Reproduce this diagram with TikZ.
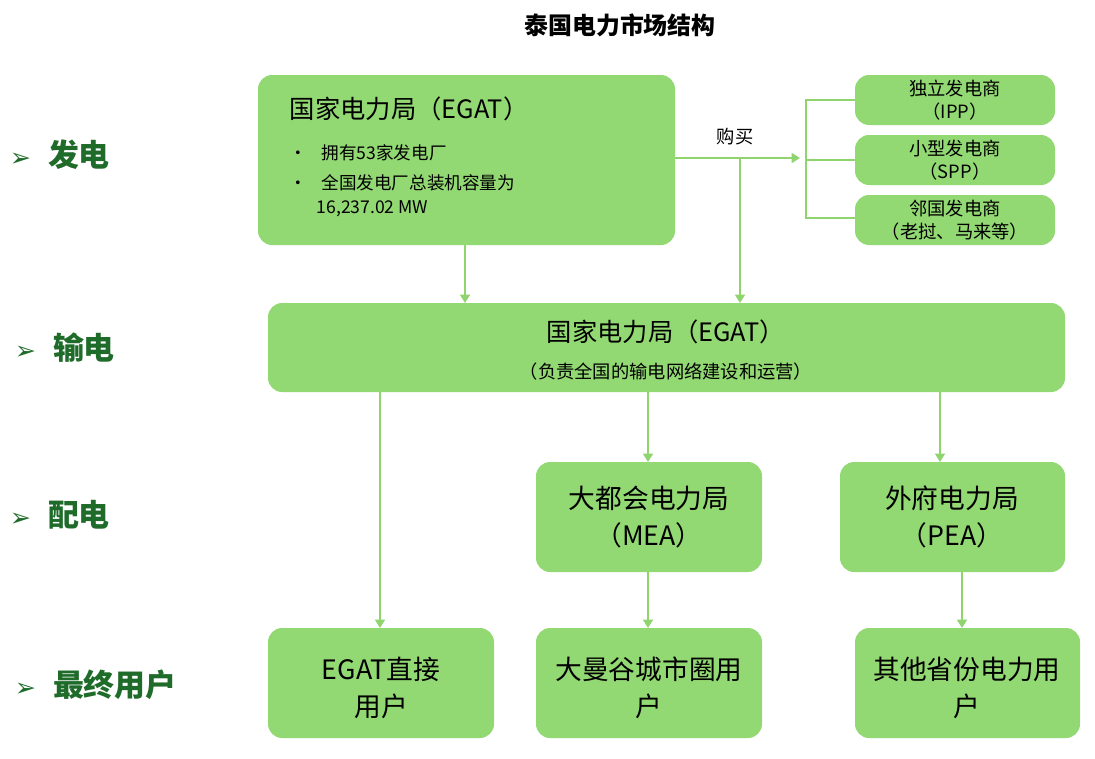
\documentclass[tikz,border=0pt]{standalone}
\usepackage{fontspec}
\setmainfont{Noto Sans CJK SC}
\newfontfamily\symf{DejaVu Sans}
\usetikzlibrary{arrows.meta}
\definecolor{boxg}{HTML}{92D873}
\definecolor{lineg}{HTML}{8FD46E}
\definecolor{darkg}{HTML}{1F6B2A}
\begin{document}
\begin{tikzpicture}[x=0.025cm,y=-0.025cm,
  bx/.style={fill=boxg,draw=none,rounded corners=10pt},
  conn/.style={draw=lineg,line width=2pt,-{Triangle[length=6pt,width=7pt]}},
  plain/.style={draw=lineg,line width=2pt},
  lvl/.style={anchor=west,text=darkg,font=\fontsize{22}{26}\selectfont\bfseries},
  big/.style={align=center,font=\fontsize{18}{23}\selectfont},
  sm/.style={align=center,font=\fontsize{13}{16}\selectfont}]
\useasboundingbox (0,0) rectangle (1095,758);
\node[font=\fontsize{17}{20}\selectfont\bfseries] (title) at (620,25) {泰国电力市场结构};
% levels
\node[lvl] (l1) at (5,155) {{\symf\fontsize{18}{20}\selectfont ➢}\hspace{12pt}发电};
\node[lvl] (l2) at (10,348) {{\symf\fontsize{18}{20}\selectfont ➢}\hspace{12pt}输电};
\node[lvl] (l3) at (5,515) {{\symf\fontsize{18}{20}\selectfont ➢}\hspace{12pt}配电};
\node[lvl] (l4) at (10,685) {{\symf\fontsize{18}{20}\selectfont ➢}\hspace{12pt}最终用户};
% boxes
\path[bx] (258,75) rectangle (675,245);
\node[anchor=north west,font=\fontsize{18}{22}\selectfont] (egat1) at (285,92) {国家电力局（EGAT）};
\node[anchor=north west,align=left,font=\fontsize{12.5}{17}\selectfont] (egatb) at (285,140)
 {•\hspace{10pt}拥有53家发电厂\\[4pt]•\hspace{10pt}全国发电厂总装机容量为\\\hspace{19pt}16,237.02 MW};
\coordinate (egatS) at (465,245);
\coordinate (egatE) at (675,158);
\node[bx,minimum width=200\pgflinewidth] (ipp) at (955,100) {};
\path[bx] (855,75) rectangle (1055,125);
\node[sm] (ippt) at (955,100) {独立发电商\\（IPP）};
\path[bx] (855,135) rectangle (1055,185);
\node[sm] (sppt) at (955,160) {小型发电商\\（SPP）};
\path[bx] (855,195) rectangle (1055,245);
\node[sm] (nbt) at (955,220) {邻国发电商\\（老挝、马来等）};
\path[bx] (268,303) rectangle (1065,392);
\node[big] (tr1) at (666,332) {国家电力局（EGAT）};
\node[sm] (tr2) at (666,372) {（负责全国的输电网络建设和运营）};
\path[bx] (536,462) rectangle (762,572);
\node[big,font=\fontsize{19}{26}\selectfont] (mea) at (649,517) {大都会电力局\\（MEA）};
\path[bx] (840,462) rectangle (1065,572);
\node[big,font=\fontsize{19}{26}\selectfont] (pea) at (952,517) {外府电力局\\（PEA）};
\path[bx] (268,628) rectangle (494,738);
\node[big,font=\fontsize{19}{26}\selectfont] (u1) at (381,688) {EGAT直接\\用户};
\path[bx] (536,628) rectangle (762,738);
\node[big,font=\fontsize{19}{26}\selectfont] (u2) at (649,688) {大曼谷城市圈用\\户};
\path[bx] (855,628) rectangle (1080,738);
\node[big,font=\fontsize{19}{26}\selectfont] (u3) at (967,688) {其他省份电力用\\户};
% connectors
\coordinate (trA) at (465,303);
\coordinate (trB) at (740,303);
\coordinate (br) at (800,158);
\coordinate (j) at (740,158);
\draw[conn] (egatS) -- (trA);
\draw[conn] (egatE) -- (br);
\draw[conn] (j) -- (trB);
\node[font=\fontsize{13}{16}\selectfont] (buy) at (735,137) {购买};
\draw[plain] (855,100) -| (806,218) -- (855,218);
\draw[plain] (806,160) -- (855,160);
\draw[conn] (380,392) -- (380,628);
\draw[conn] (648,392) -- (648,462);
\draw[conn] (940,392) -- (940,462);
\draw[conn] (648,572) -- (648,628);
\draw[conn] (962,572) -- (962,628);
\end{tikzpicture}
\end{document}
